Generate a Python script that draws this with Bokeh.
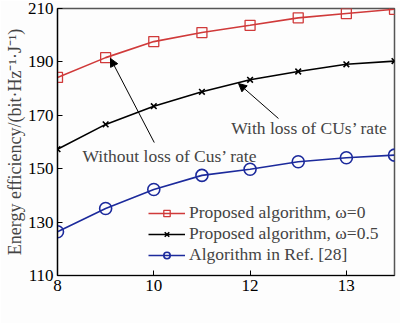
from bokeh.plotting import figure
from bokeh.models import (Range1d, FixedTicker, Label, Arrow, NormalHead, Legend, LegendItem)
from bokeh.embed import file_html
from bokeh.resources import INLINE

# data
x_pos = [0, 1, 2, 3, 4, 5, 6, 7]
tick_pos = [0, 2, 4, 6]
tick_labels = ["8", "10", "12", "13"]
ee_w0 = [184.2, 191.6, 197.6, 201.0, 203.7, 206.5, 208.1, 209.7]
ee_w05 = [157.3, 166.6, 173.4, 178.8, 183.3, 186.4, 189.1, 190.3]
ee_ref = [126.4, 135.1, 142.2, 147.5, 149.8, 152.6, 154.1, 155.1]
y_ticks = [110, 130, 150, 170, 190, 210]

SERIF = "Liberation Serif"
RED = "#d03a3a"
BLUE = "#1c2a9c"

p = figure(width=400, height=323, output_backend="svg", toolbar_location=None,
           x_range=Range1d(0, 7), y_range=Range1d(110, 210),
           min_border_left=57, min_border_right=6, min_border_top=8, min_border_bottom=48)
p.background_fill_color = "#fdfdfd"
p.border_fill_color = "#fdfdfd"
p.xgrid.visible = False
p.ygrid.visible = False
p.outline_line_color = "#555555"
p.outline_line_width = 1.5

for ax in (p.xaxis[0], p.yaxis[0]):
    ax.major_label_text_font = SERIF
    ax.major_label_text_font_size = "17px"
    ax.major_label_text_color = "black"
    ax.axis_line_color = "black"
    ax.axis_line_width = 1.2
    ax.major_tick_in = 5
    ax.major_tick_out = 0
    ax.minor_tick_in = 0
    ax.minor_tick_out = 0
    ax.major_tick_line_color = "black"

p.xaxis.ticker = FixedTicker(ticks=tick_pos)
p.xaxis.major_label_overrides = {t: l for t, l in zip(tick_pos, tick_labels)}
p.xaxis.major_label_standoff = 4
p.yaxis.ticker = FixedTicker(ticks=y_ticks)
p.yaxis.major_label_standoff = 4
p.yaxis.axis_label = "Energy efficiency/(bit·Hz⁻¹·J⁻¹)"
p.yaxis.axis_label_text_font = SERIF
p.yaxis.axis_label_text_font_size = "18px"
p.yaxis.axis_label_text_font_style = "normal"
p.yaxis.axis_label_standoff = 0

r1l = p.line(x_pos, ee_w0, line_color=RED, line_width=1.6)
r1m = p.scatter(x_pos, ee_w0, marker="square", size=10, line_color=RED, fill_color=None, line_width=1.3)
r2l = p.line(x_pos, ee_w05, line_color="black", line_width=1.6)
r2m = p.scatter(x_pos, ee_w05, marker="x", size=8, line_color="black", line_width=1.6)
r3l = p.line(x_pos, ee_ref, line_color=BLUE, line_width=1.6)
r3m = p.scatter(x_pos, ee_ref, marker="circle", size=12, line_color=BLUE, fill_color=None, line_width=1.6)

legend = Legend(items=[
    LegendItem(label="Proposed algorithm, ω=0", renderers=[r1l, r1m]),
    LegendItem(label="Proposed algorithm, ω=0.5", renderers=[r2l, r2m]),
    LegendItem(label="Algorithm in Ref. [28]", renderers=[r3l, r3m]),
], location=(91, 10))
legend.label_text_font = SERIF
legend.label_text_font_size = "17.5px"
legend.border_line_color = None
legend.background_fill_alpha = 0
legend.glyph_width = 37
legend.glyph_height = 16
legend.spacing = 0
legend.padding = 2
legend.label_standoff = 4
legend.label_height = 16
p.add_layout(legend, "center")

# annotations
p.add_layout(Label(x=0.52, y=154.9, text="Without loss of Cus’ rate", text_font=SERIF,
                   text_font_size="17.5px", text_baseline="middle"))
p.add_layout(Label(x=3.61, y=165.4, text="With loss of CUs’ rate", text_font=SERIF,
                   text_font_size="17.5px", text_baseline="middle"))
p.add_layout(Arrow(x_start=2.01, y_start=159.8, x_end=1.1, y_end=191.3, line_width=1,
                   end=NormalHead(size=8, fill_color="black", line_color="black")))
p.add_layout(Arrow(x_start=4.59, y_start=168.8, x_end=3.76, y_end=181.9, line_width=1,
                   end=NormalHead(size=8, fill_color="black", line_color="black")))

# x-axis title with italic P and subscript
p.add_layout(Label(x=2.6, y=99.5, text="P", text_font=SERIF, text_font_size="18px",
                   text_font_style="italic", text_baseline="middle"))
p.add_layout(Label(x=2.83, y=97.3, text="th", text_font=SERIF, text_font_size="12px",
                   text_baseline="middle"))
p.add_layout(Label(x=3.01, y=99.5, text="/dBm", text_font=SERIF, text_font_size="18px",
                   text_baseline="middle"))

# watermark
p.add_layout(Label(x=4.84, y=96.9, text="@有色金属在线", text_font="Noto Sans CJK SC",
                   text_font_size="15px", text_color="#f2a6a6", text_baseline="middle"))

open("out.html", "w").write(file_html(p, INLINE))
